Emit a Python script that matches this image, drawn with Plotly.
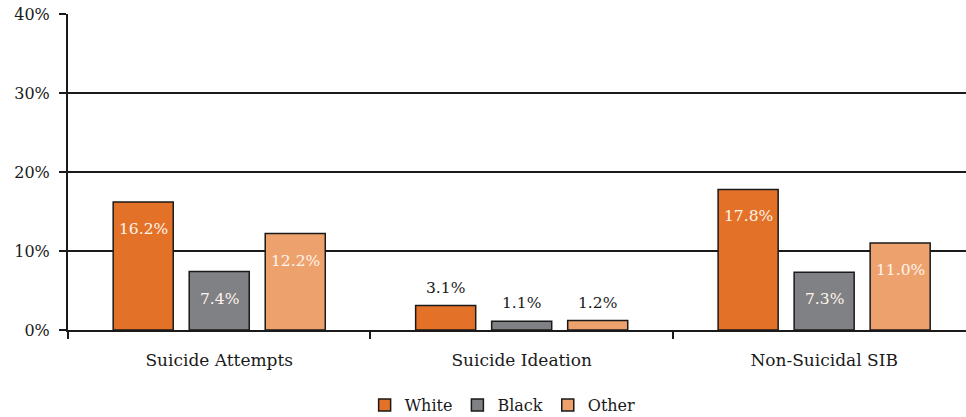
import plotly.graph_objects as go

categories = ["Suicide Attempts", "Suicide Ideation", "Non-Suicidal SIB"]
series_names = ["White", "Black", "Other"]
white_vals = [16.2, 3.1, 17.8]
black_vals = [7.4, 1.1, 7.3]
other_vals = [12.2, 1.2, 11.0]
y_ticks = [0, 10, 20, 30, 40]
y_tick_labels = ["0%", "10%", "20%", "30%", "40%"]

colors = ["#E37228", "#808184", "#EDA26E"]
series_vals = [white_vals, black_vals, other_vals]

FONT = "DejaVu Serif"
TEXT = "#1a1a1a"

BARGAP = 0.246
fig = go.Figure()
for name, vals, col in zip(series_names, series_vals, colors):
    fig.add_trace(go.Bar(
        name=name, x=categories, y=vals,
        marker=dict(color=col, line=dict(color="#1a1a1a", width=1.5)),
    ))

# value labels: inside (light) for tall bars, above for short ones
slot = (1 - BARGAP) / 3
annotations = []
for si, vals in enumerate(series_vals):
    for ci, v in enumerate(vals):
        xpos = ci + (si - 1) * slot
        inside = v >= 5
        annotations.append(dict(
            x=xpos, y=v, xref="x", yref="y", text=f"{v:.1f}%",
            showarrow=False, yanchor="middle",
            yshift=-27 if inside else 18,
            font=dict(family=FONT, size=15.5, color="#FFF4EC" if inside else TEXT),
        ))

fig.update_layout(
    width=966, height=417,
    margin=dict(l=68, r=0, t=14, b=87, autoexpand=False),
    paper_bgcolor="white", plot_bgcolor="white",
    barmode="group", bargap=BARGAP, bargroupgap=0.21,
    font=dict(family=FONT, size=16, color=TEXT),
    annotations=annotations,
    showlegend=True,
    legend=dict(orientation="h", x=0.484, xanchor="center",
                y=12 / 417, yref="container", yanchor="middle",
                font=dict(family=FONT, size=16, color=TEXT),
                itemwidth=30, tracegroupgap=0, traceorder="normal"),
)
fig.update_xaxes(
    range=[-0.5, 2.469], showline=True, linecolor="#1a1a1a", linewidth=2,
    ticks="outside", tickson="boundaries", ticklen=7, tickwidth=2, tickcolor="#1a1a1a",
    ticklabelstandoff=14, tickfont=dict(size=17), showgrid=False, zeroline=False,
)
fig.update_yaxes(
    range=[0, 40], tickvals=y_ticks, ticktext=y_tick_labels,
    showline=True, linecolor="#1a1a1a", linewidth=2,
    ticks="outside", ticklen=7, tickwidth=1.5, tickcolor="#1a1a1a",
    ticklabelstandoff=6,
    showgrid=True, gridcolor="#1a1a1a", gridwidth=1.5, zeroline=False,
)

fig.write_html("out.html")
